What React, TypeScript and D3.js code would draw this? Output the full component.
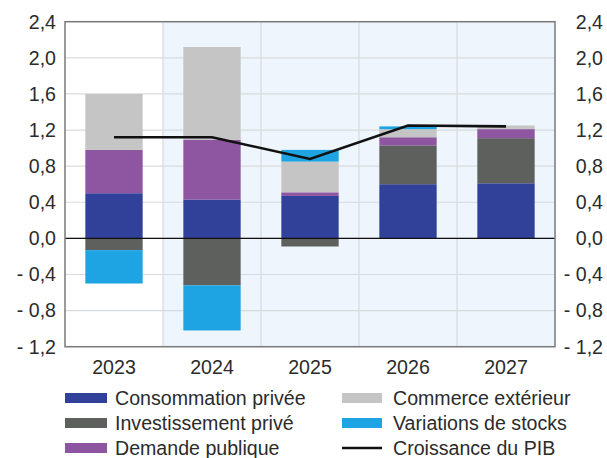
import React from "react";
import * as d3 from "d3";

const years = ["2023", "2024", "2025", "2026", "2027"];
const consommation = [0.5, 0.43, 0.47, 0.6, 0.61];
const investissement = [-0.13, -0.52, -0.09, 0.43, 0.5];
const demande = [0.48, 0.66, 0.04, 0.09, 0.1];
const commerce = [0.62, 1.03, 0.34, 0.09, 0.04];
const stocks = [-0.37, -0.5, 0.13, 0.03, 0.0];
const pib = [1.12, 1.12, 0.88, 1.25, 1.24];
const yTicks = [-1.2, -0.8, -0.4, 0, 0.4, 0.8, 1.2, 1.6, 2.0, 2.4];

const seriesKeys = ["conso", "invest", "demande", "commerce", "stocks"];
const seriesLabels: Record<string, string> = {
  conso: "Consommation privée",
  invest: "Investissement privé",
  demande: "Demande publique",
  commerce: "Commerce extérieur",
  stocks: "Variations de stocks",
};
const colors: Record<string, string> = {
  conso: "#31419A",
  invest: "#5E605E",
  demande: "#8E55A0",
  commerce: "#C4C5C4",
  stocks: "#1EA4E2",
};

const W = 607;
const H = 458;
const L = 65;
const R = 555;
const T = 21.7;
const B = 346.7;
const FONT = "'Liberation Sans', Arial, sans-serif";
const FS = 19.6;

function fmt(v: number) {
  const s = Math.abs(v).toFixed(1).replace(".", ",");
  return v < -1e-9 ? "- " + s : s;
}

export default function App() {
  const rows = years.map((y, i) => ({
    year: y,
    conso: consommation[i],
    invest: investissement[i],
    demande: demande[i],
    commerce: commerce[i],
    stocks: stocks[i],
  }));
  const x = d3.scaleBand().domain(years).range([L, R]).paddingInner(0).paddingOuter(0);
  const y = d3.scaleLinear().domain([-1.2, 2.4]).range([B, T]);
  const stack = d3
    .stack<any>()
    .keys(seriesKeys)
    .offset(d3.stackOffsetDiverging)(rows);
  const bw = x.bandwidth() * 0.585;
  const line = d3
    .line<number>()
    .x((_, i) => (x(years[i]) as number) + x.bandwidth() / 2)
    .y((d) => y(d));

  const legendLeft = [
    { type: "rect", key: "conso" },
    { type: "rect", key: "invest" },
    { type: "rect", key: "demande" },
  ];
  const legendRight = [
    { type: "rect", key: "commerce" },
    { type: "rect", key: "stocks" },
    { type: "line", key: "pib" },
  ];
  const rowY = [398, 423, 448];

  return (
    <svg
      width={W}
      height={H}
      style={{ position: "absolute", left: 0, top: 0, display: "block", background: "#fff" }}
      fontFamily={FONT}
    >
      <rect
        x={x("2024") as number}
        y={T}
        width={R - (x("2024") as number)}
        height={B - T}
        fill="#EEF5FC"
      />
      {yTicks.map((t) => (
        <line key={"g" + t} x1={L} x2={R} y1={y(t)} y2={y(t)} stroke="#D8DBDE" strokeWidth={1.2} />
      ))}
      {years.slice(1).map((yr) => (
        <line
          key={"v" + yr}
          x1={x(yr) as number}
          x2={x(yr) as number}
          y1={T}
          y2={B}
          stroke="#D8DBDE"
          strokeWidth={1.2}
        />
      ))}
      {stack.map((s) =>
        s.map((d, i) => {
          const y0 = y(d[0]);
          const y1 = y(d[1]);
          const h = Math.abs(y0 - y1);
          if (h < 0.01) return null;
          return (
            <rect
              key={s.key + i}
              x={(x(years[i]) as number) + (x.bandwidth() - bw) / 2}
              y={Math.min(y0, y1)}
              width={bw}
              height={h}
              fill={colors[s.key]}
            />
          );
        })
      )}
      <line x1={L} x2={R} y1={y(0)} y2={y(0)} stroke="#111" strokeWidth={1.2} />
      <path d={line(pib) || ""} fill="none" stroke="#111" strokeWidth={2.6} />
      <rect x={L} y={T} width={R - L} height={B - T} fill="none" stroke="#7A7A7A" strokeWidth={1.5} />
      {yTicks.map((t) => (
        <text key={"l" + t} x={56} y={y(t)} dy="0.35em" textAnchor="end" fontSize={FS} fill="#2b2b2b">
          {fmt(t)}
        </text>
      ))}
      {yTicks.map((t) => (
        <text key={"r" + t} x={603} y={y(t)} dy="0.35em" textAnchor="end" fontSize={FS} fill="#2b2b2b">
          {fmt(t)}
        </text>
      ))}
      {years.map((yr) => (
        <text
          key={"x" + yr}
          x={(x(yr) as number) + x.bandwidth() / 2}
          y={374}
          textAnchor="middle"
          fontSize={FS}
          fill="#2b2b2b"
        >
          {yr}
        </text>
      ))}
      {legendLeft.map((it, i) => (
        <g key={"ll" + it.key}>
          <rect x={65} y={rowY[i] - 5} width={42} height={10} fill={colors[it.key]} />
          <text x={115} y={rowY[i]} dy="0.35em" fontSize={FS} fill="#2b2b2b">
            {seriesLabels[it.key]}
          </text>
        </g>
      ))}
      {legendRight.map((it, i) => (
        <g key={"lr" + it.key}>
          {it.type === "rect" ? (
            <rect x={342} y={rowY[i] - 5} width={40} height={10} fill={colors[it.key]} />
          ) : (
            <line x1={342} x2={382} y1={rowY[i]} y2={rowY[i]} stroke="#111" strokeWidth={2.6} />
          )}
          <text x={393} y={rowY[i]} dy="0.35em" fontSize={FS} fill="#2b2b2b">
            {it.type === "rect" ? seriesLabels[it.key] : "Croissance du PIB"}
          </text>
        </g>
      ))}
    </svg>
  );
}
